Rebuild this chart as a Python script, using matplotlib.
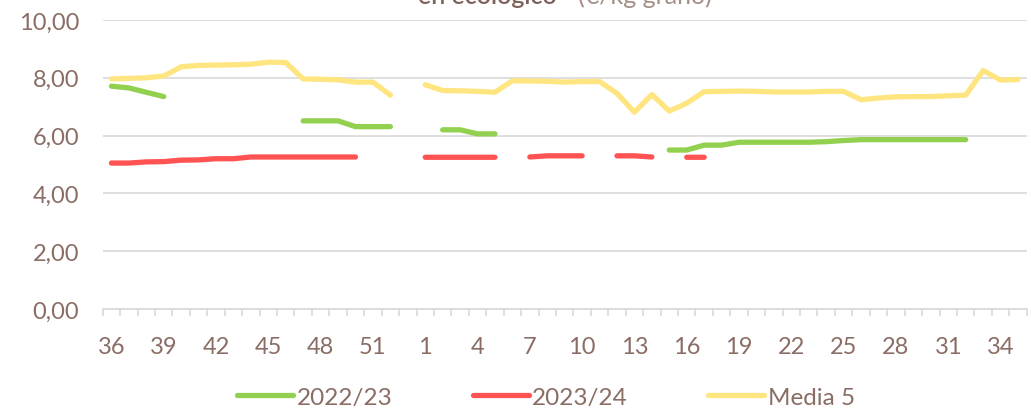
import numpy as np
import matplotlib
matplotlib.use("Agg")
import matplotlib.pyplot as plt
from matplotlib.lines import Line2D

plt.rcParams["font.family"] = ["Lato", "DejaVu Sans"]

nan = np.nan

# Semanas de campaña (36 -> 53, luego 1 -> 35)
weeks = list(range(36, 54)) + list(range(1, 36))

# Precio 2022/23 (€/kg grano)
serie_2223 = [7.71, 7.65, 7.50, 7.35, nan, nan, nan, nan, nan, nan, nan,
              6.51, 6.51, 6.51, 6.31, 6.31, 6.31, nan,
              nan, 6.20, 6.20, 6.06, 6.06, nan, nan, nan, nan, nan, nan, nan,
              nan, nan, 5.50, 5.50, 5.67, 5.67, 5.77, 5.77, 5.77, 5.77, 5.77,
              5.79, 5.83, 5.86, 5.86, 5.86, 5.86, 5.86, 5.86, 5.86, nan, nan, nan]

# Precio 2023/24 (€/kg grano)
serie_2324 = [5.05, 5.05, 5.09, 5.10, 5.15, 5.16, 5.20, 5.20, 5.26, 5.26, 5.26,
              5.26, 5.26, 5.26, 5.26, nan, nan, nan,
              5.25, 5.25, 5.25, 5.25, 5.25, nan, 5.26, 5.30, 5.30, 5.30, nan,
              5.30, 5.30, 5.26, nan, 5.25, 5.25, nan, nan, nan, nan, nan,
              nan, nan, nan, nan, nan, nan, nan, nan, nan, nan, nan, nan, nan]

# Media de las 5 últimas campañas (€/kg grano)
media_5 = [7.96, 7.98, 8.00, 8.06, 8.38, 8.43, 8.44, 8.45, 8.47, 8.54, 8.53,
           7.96, 7.95, 7.93, 7.85, 7.85, 7.40, nan,
           7.76, 7.56, 7.55, 7.53, 7.50, 7.90, 7.89, 7.88, 7.85, 7.87, 7.87,
           7.46, 6.81, 7.42, 6.85, 7.12, 7.52, 7.53, 7.54, 7.53, 7.51, 7.51,
           7.51, 7.53, 7.53, 7.24, 7.30, 7.34, 7.35, 7.35, 7.38, 7.40, 8.25,
           7.92, 7.94]

series_labels = ["2022/23", "2023/24", "Media 5"]
series_colors = ["#92D050", "#FF5353", "#FFE57F"]
y_ticks = [0, 2, 4, 6, 8, 10]

text_color = "#8A6D65"
grid_color = "#D9D9D9"

W, H = 1031, 410
fig = plt.figure(figsize=(W / 100, H / 100), dpi=100)
left, right, top, bottom = 102.7, 1026.7, 21, 310
ax = fig.add_axes([left / W, 1 - bottom / H, (right - left) / W, (bottom - top) / H])

x = np.arange(len(weeks))
for data, color in zip([serie_2223, serie_2324, media_5], series_colors):
    ax.plot(x, np.array(data, dtype=float), color=color, lw=3.8,
            solid_capstyle="round", solid_joinstyle="round", zorder=3)

ax.set_xlim(-0.5, len(weeks) - 0.5)
ax.set_ylim(0, 10)

# Rejilla horizontal
ax.set_yticks(y_ticks)
ax.set_yticklabels([f"{v:.2f}".replace(".", ",") for v in y_ticks])
ax.yaxis.grid(True, color=grid_color, lw=1.2, zorder=0)
ax.tick_params(axis="y", length=0, pad=17, labelsize=17, labelcolor=text_color)

# Eje de categorías: etiqueta cada 3 semanas, marcas entre categorías
major = x[::3]
ax.set_xticks(major)
ax.set_xticklabels([str(weeks[i]) for i in major])
ax.set_xticks(np.arange(-0.5, len(weeks)), minor=True)
ax.tick_params(axis="x", which="major", length=0, pad=19.5, labelsize=17,
               labelcolor=text_color)
ax.tick_params(axis="x", which="minor", length=5, width=1.2, color=grid_color,
               direction="out")

for side in ["top", "right", "left"]:
    ax.spines[side].set_visible(False)
ax.spines["bottom"].set_color(grid_color)
ax.spines["bottom"].set_linewidth(1.2)

# Título (parte inferior visible en el borde superior)
fig.text(418 / W, 1 - 4 / H, "en ecológico", ha="left", va="baseline",
         fontsize=18, fontweight="semibold", color="#7E625B")
fig.text(578 / W, 1 - 4 / H, "(€/kg grano)", ha="left", va="baseline",
         fontsize=18, color="#A48E88")

handles = [Line2D([], [], color=c, lw=3.8, solid_capstyle="round")
           for c in series_colors]
fig.legend(handles, series_labels, loc="center", ncol=3, frameon=False,
           bbox_to_anchor=(546 / W, 1 - 398 / H), fontsize=17.5,
           labelcolor=text_color, handlelength=2.3, handletextpad=0.15,
           columnspacing=3.3)

fig.savefig("out.png", dpi=100)
